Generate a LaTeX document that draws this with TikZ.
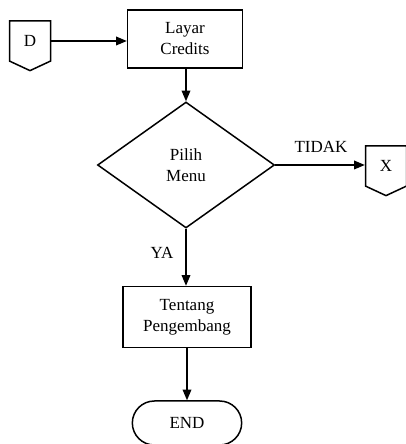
\documentclass[tikz,border=0pt]{standalone}
\usepackage{fontspec}
\setmainfont{Liberation Serif}
\usepackage{tikz}
\usetikzlibrary{positioning, shapes, arrows, calc}

\begin{document}
\begin{tikzpicture}[x=1pt, y=1pt, every node/.style={font=\fontsize{17}{21}\selectfont}]
	\tikzstyle{procbox}=[draw=black, line width=1.5pt, align=center, inner sep=0pt, text=black]
	\tikzstyle{decide}=[draw=black, line width=1.5pt, diamond, inner sep=0pt, align=center, minimum width=177pt, minimum height=126pt]
	\tikzstyle{offpage}=[draw=black, line width=1.5pt, signal, signal to=south, signal pointer angle=130, minimum width=41pt, minimum height=43pt, inner sep=0pt]
	\tikzstyle{terminal}=[draw=black, line width=1.5pt, rounded rectangle, minimum width=116pt, minimum height=44pt]
	\tikzstyle{flow}=[-triangle 45, line width=1.5pt]

	\useasboundingbox (0,0) rectangle (405,444);

	\node [procbox, minimum width=115pt, minimum height=58pt] (credits) at (185,405) {Layar\\Credits};
	\node [offpage] (D) at (30,403) {D};
	\node [decide] (menu) at (186,279) {Pilih\\Menu};
	\node [offpage] (X) at (386,278) {X};
	\node [procbox, minimum width=128pt, minimum height=61pt] (about) at (187,127) {Tentang\\Pengembang};
	\node [terminal] (end) at (187,21) {END};

	\node (tidak) at (321,297) {TIDAK};
	\node (ya) at (162,191) {YA};

	\draw [flow] (D.east) -- (credits.west |- D.east);
	\draw [flow] (credits.south -| menu.north) -- (menu.north);
	\draw [flow] (menu.east) -- (X.west |- menu.east);
	\draw [flow] (menu.south) -- (about.north -| menu.south);
	\draw [flow] (about.south) -- (end.north);
\end{tikzpicture}
\end{document}
